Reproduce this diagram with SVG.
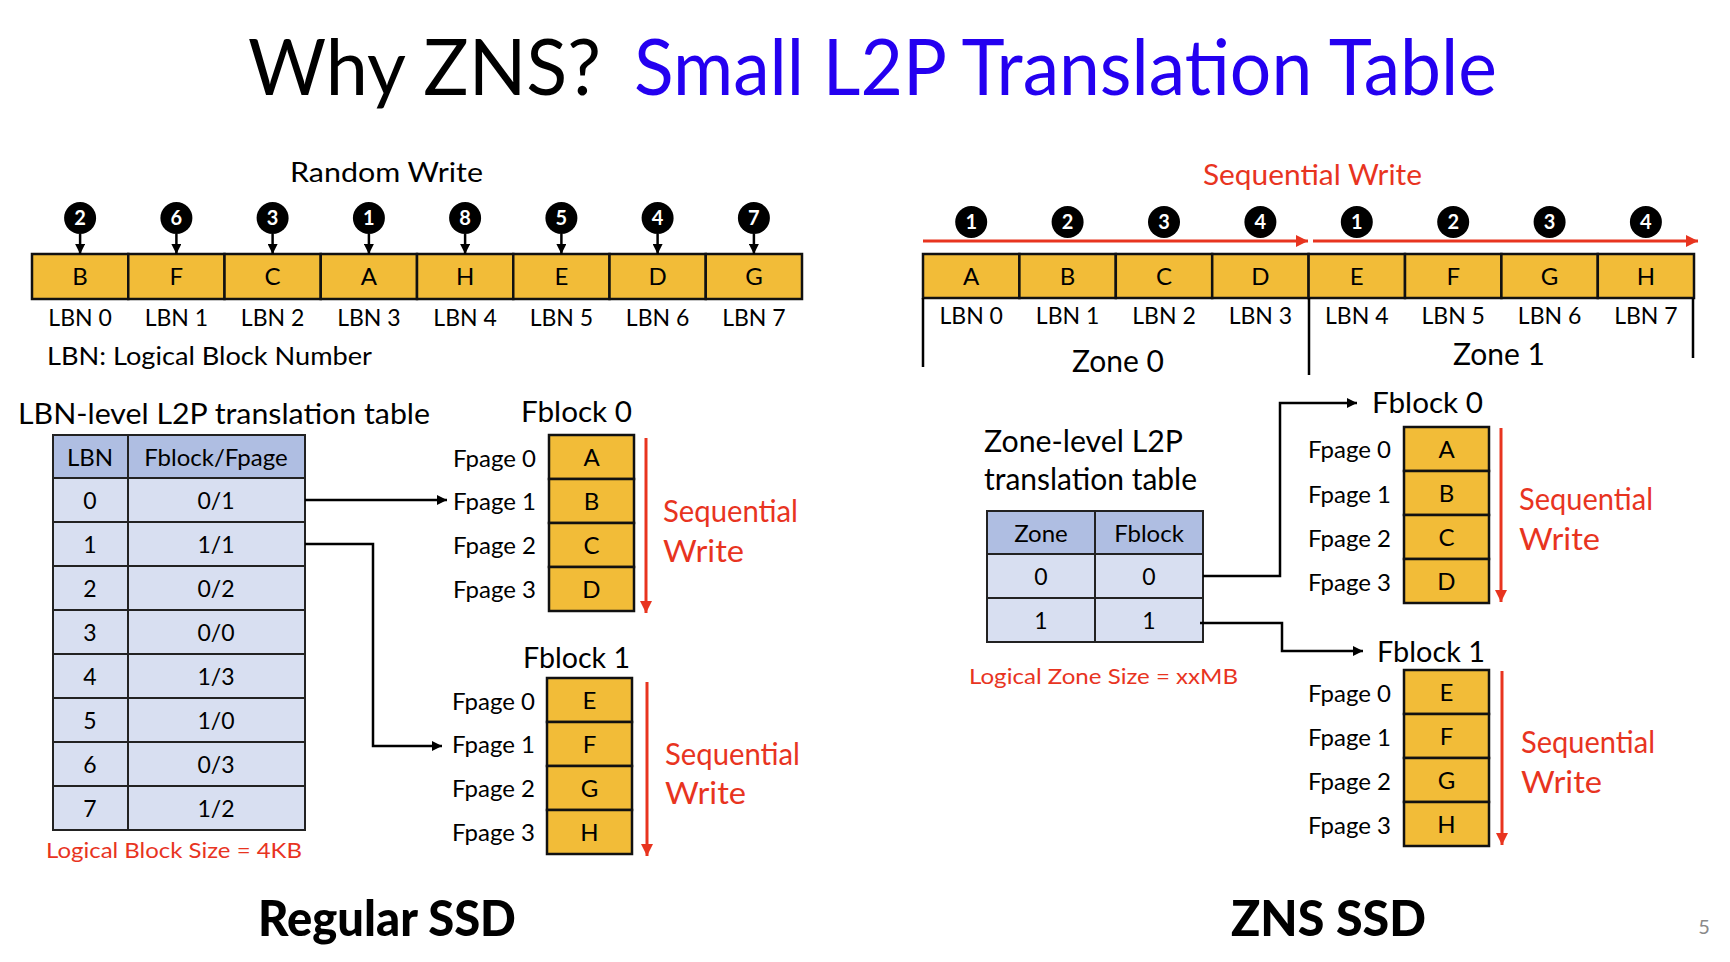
<svg xmlns="http://www.w3.org/2000/svg" width="1730" height="962" viewBox="0 0 1730 962">
<defs>
<style>
text{font-family:Lato,"Liberation Sans",sans-serif;fill:#000}
.c{text-anchor:middle}
.red{fill:#E8341F}
.cell{fill:#F2BC38;stroke:#111;stroke-width:2.5}
.th{fill:#AFBEE2;stroke:#222;stroke-width:2}
.td{fill:#D8DFF1;stroke:#222;stroke-width:2}
.num{fill:#000}
.numt{fill:#fff;font-weight:bold;font-size:20px;text-anchor:middle}
.lk{fill:none;stroke:#000;stroke-width:2.5}
.rl{fill:none;stroke:#E8341F;stroke-width:3}
.br{fill:none;stroke:#000;stroke-width:2.5}
.f24{font-size:24px}
.f23{font-size:23px}
</style>
<marker id="ab" viewBox="0 0 10 10" refX="10" refY="5" markerWidth="10" markerHeight="10" markerUnits="userSpaceOnUse" orient="auto"><path d="M0,0 L10,5 L0,10 z" fill="#000"/></marker>
<marker id="ar" viewBox="0 0 10 10" refX="10" refY="5" markerWidth="12" markerHeight="12" markerUnits="userSpaceOnUse" orient="auto"><path d="M0,0 L10,5 L0,10 z" fill="#E8341F"/></marker>
</defs>
<rect width="1730" height="962" fill="#fff"/>

<g id="title">
<text x="248" y="95" font-size="78" textLength="353" lengthAdjust="spacingAndGlyphs">Why ZNS?</text>
<text x="634" y="95" font-size="78" fill="#2400F0" style="fill:#2400F0" textLength="863" lengthAdjust="spacingAndGlyphs">Small L2P Translation Table</text>
</g>

<!-- Regular SSD: LBN row -->
<g id="random-write-label"><text x="290" y="182" font-size="27" textLength="193" lengthAdjust="spacingAndGlyphs">Random Write</text></g>
<g id="lbn-row-left">
<rect class="cell" x="32" y="254" width="96.25" height="45"/>
<rect class="cell" x="128.25" y="254" width="96.25" height="45"/>
<rect class="cell" x="224.5" y="254" width="96.25" height="45"/>
<rect class="cell" x="320.75" y="254" width="96.25" height="45"/>
<rect class="cell" x="417" y="254" width="96.25" height="45"/>
<rect class="cell" x="513.25" y="254" width="96.25" height="45"/>
<rect class="cell" x="609.5" y="254" width="96.25" height="45"/>
<rect class="cell" x="705.75" y="254" width="96.25" height="45"/>
<g class="f24">
<text class="c" x="80.1" y="285">B</text>
<text class="c" x="176.4" y="285">F</text>
<text class="c" x="272.6" y="285">C</text>
<text class="c" x="368.9" y="285">A</text>
<text class="c" x="465.1" y="285">H</text>
<text class="c" x="561.4" y="285">E</text>
<text class="c" x="657.6" y="285">D</text>
<text class="c" x="753.9" y="285">G</text>
</g>
<g class="f23">
<text class="c" x="80.1" y="326">LBN 0</text>
<text class="c" x="176.4" y="326">LBN 1</text>
<text class="c" x="272.6" y="326">LBN 2</text>
<text class="c" x="368.9" y="326">LBN 3</text>
<text class="c" x="465.1" y="326">LBN 4</text>
<text class="c" x="561.4" y="326">LBN 5</text>
<text class="c" x="657.6" y="326">LBN 6</text>
<text class="c" x="753.9" y="326">LBN 7</text>
</g>
</g>
<g id="write-order-left">
<circle class="num" cx="80.1" cy="218" r="16"/><text class="numt" x="80.1" y="225">2</text>
<circle class="num" cx="176.4" cy="218" r="16"/><text class="numt" x="176.4" y="225">6</text>
<circle class="num" cx="272.6" cy="218" r="16"/><text class="numt" x="272.6" y="225">3</text>
<circle class="num" cx="368.9" cy="218" r="16"/><text class="numt" x="368.9" y="225">1</text>
<circle class="num" cx="465.1" cy="218" r="16"/><text class="numt" x="465.1" y="225">8</text>
<circle class="num" cx="561.4" cy="218" r="16"/><text class="numt" x="561.4" y="225">5</text>
<circle class="num" cx="657.6" cy="218" r="16"/><text class="numt" x="657.6" y="225">4</text>
<circle class="num" cx="753.9" cy="218" r="16"/><text class="numt" x="753.9" y="225">7</text>
</g>
<g id="lbn-legend"><text x="47" y="365" font-size="25" textLength="325" lengthAdjust="spacingAndGlyphs">LBN: Logical Block Number</text></g>

<!-- LBN-level table -->
<g id="lbn-table">
<text x="18" y="424" font-size="29" textLength="412" lengthAdjust="spacingAndGlyphs">LBN-level L2P translation table</text>
<rect class="th" x="53" y="435" width="75" height="43"/>
<rect class="th" x="128" y="435" width="177" height="43"/>
<rect class="td" x="53" y="478" width="75" height="44"/><rect class="td" x="128" y="478" width="177" height="44"/>
<rect class="td" x="53" y="522" width="75" height="44"/><rect class="td" x="128" y="522" width="177" height="44"/>
<rect class="td" x="53" y="566" width="75" height="44"/><rect class="td" x="128" y="566" width="177" height="44"/>
<rect class="td" x="53" y="610" width="75" height="44"/><rect class="td" x="128" y="610" width="177" height="44"/>
<rect class="td" x="53" y="654" width="75" height="44"/><rect class="td" x="128" y="654" width="177" height="44"/>
<rect class="td" x="53" y="698" width="75" height="44"/><rect class="td" x="128" y="698" width="177" height="44"/>
<rect class="td" x="53" y="742" width="75" height="44"/><rect class="td" x="128" y="742" width="177" height="44"/>
<rect class="td" x="53" y="786" width="75" height="44"/><rect class="td" x="128" y="786" width="177" height="44"/>
<text class="c" x="90" y="466" font-size="24">LBN</text>
<text class="c" x="216" y="466" font-size="24">Fblock/Fpage</text>
<g class="f23">
<text class="c" x="90" y="509">0</text><text class="c" x="216" y="509">0/1</text>
<text class="c" x="90" y="553">1</text><text class="c" x="216" y="553">1/1</text>
<text class="c" x="90" y="597">2</text><text class="c" x="216" y="597">0/2</text>
<text class="c" x="90" y="641">3</text><text class="c" x="216" y="641">0/0</text>
<text class="c" x="90" y="685">4</text><text class="c" x="216" y="685">1/3</text>
<text class="c" x="90" y="729">5</text><text class="c" x="216" y="729">1/0</text>
<text class="c" x="90" y="773">6</text><text class="c" x="216" y="773">0/3</text>
<text class="c" x="90" y="817">7</text><text class="c" x="216" y="817">1/2</text>
</g>
<text class="red" x="46" y="858" font-size="22" textLength="256" lengthAdjust="spacingAndGlyphs">Logical Block Size = 4KB</text>
</g>

<!-- Left Fblock 0 -->
<g id="left-fblock0">
<text x="521" y="422" font-size="29" textLength="111" lengthAdjust="spacingAndGlyphs">Fblock 0</text>
<rect class="cell" x="549" y="435" width="85" height="44"/>
<rect class="cell" x="549" y="479" width="85" height="44"/>
<rect class="cell" x="549" y="523" width="85" height="44"/>
<rect class="cell" x="549" y="567" width="85" height="44"/>
<g class="f24">
<text class="c" x="591.5" y="466">A</text>
<text class="c" x="591.5" y="510">B</text>
<text class="c" x="591.5" y="554">C</text>
<text class="c" x="591.5" y="598">D</text>
<text x="453" y="467">Fpage 0</text>
<text x="453" y="510">Fpage 1</text>
<text x="453" y="554">Fpage 2</text>
<text x="453" y="598">Fpage 3</text>
</g>
<text class="red" x="663" y="522" font-size="31" textLength="135" lengthAdjust="spacingAndGlyphs">Sequential</text>
<text class="red" x="663" y="562" font-size="31" textLength="81" lengthAdjust="spacingAndGlyphs">Write</text>
</g>

<!-- Left Fblock 1 -->
<g id="left-fblock1">
<text x="523" y="668" font-size="29" textLength="107" lengthAdjust="spacingAndGlyphs">Fblock 1</text>
<rect class="cell" x="547" y="678" width="85" height="44"/>
<rect class="cell" x="547" y="722" width="85" height="44"/>
<rect class="cell" x="547" y="766" width="85" height="44"/>
<rect class="cell" x="547" y="810" width="85" height="44"/>
<g class="f24">
<text class="c" x="589.5" y="709">E</text>
<text class="c" x="589.5" y="753">F</text>
<text class="c" x="589.5" y="797">G</text>
<text class="c" x="589.5" y="841">H</text>
<text x="452" y="710">Fpage 0</text>
<text x="452" y="753">Fpage 1</text>
<text x="452" y="797">Fpage 2</text>
<text x="452" y="841">Fpage 3</text>
</g>
<text class="red" x="665" y="765" font-size="31" textLength="135" lengthAdjust="spacingAndGlyphs">Sequential</text>
<text class="red" x="665" y="804" font-size="31" textLength="81" lengthAdjust="spacingAndGlyphs">Write</text>
</g>

<!-- ZNS SSD: LBN row -->
<g id="seq-write-label"><text class="red" x="1203" y="185" font-size="28" textLength="219" lengthAdjust="spacingAndGlyphs">Sequential Write</text></g>
<g id="lbn-row-right">
<rect class="cell" x="923" y="254" width="96.4" height="44"/>
<rect class="cell" x="1019.4" y="254" width="96.4" height="44"/>
<rect class="cell" x="1115.8" y="254" width="96.4" height="44"/>
<rect class="cell" x="1212.2" y="254" width="96.4" height="44"/>
<rect class="cell" x="1308.6" y="254" width="96.4" height="44"/>
<rect class="cell" x="1405" y="254" width="96.4" height="44"/>
<rect class="cell" x="1501.4" y="254" width="96.4" height="44"/>
<rect class="cell" x="1597.8" y="254" width="96.2" height="44"/>
<g class="f24">
<text class="c" x="971.2" y="285">A</text>
<text class="c" x="1067.6" y="285">B</text>
<text class="c" x="1164" y="285">C</text>
<text class="c" x="1260.4" y="285">D</text>
<text class="c" x="1356.8" y="285">E</text>
<text class="c" x="1453.2" y="285">F</text>
<text class="c" x="1549.6" y="285">G</text>
<text class="c" x="1645.9" y="285">H</text>
</g>
<g class="f23">
<text class="c" x="971.2" y="324">LBN 0</text>
<text class="c" x="1067.6" y="324">LBN 1</text>
<text class="c" x="1164" y="324">LBN 2</text>
<text class="c" x="1260.4" y="324">LBN 3</text>
<text class="c" x="1356.8" y="324">LBN 4</text>
<text class="c" x="1453.2" y="324">LBN 5</text>
<text class="c" x="1549.6" y="324">LBN 6</text>
<text class="c" x="1645.9" y="324">LBN 7</text>
</g>
</g>
<g id="write-order-right">
<circle class="num" cx="971.2" cy="222" r="16"/><text class="numt" x="971.2" y="229">1</text>
<circle class="num" cx="1067.6" cy="222" r="16"/><text class="numt" x="1067.6" y="229">2</text>
<circle class="num" cx="1164" cy="222" r="16"/><text class="numt" x="1164" y="229">3</text>
<circle class="num" cx="1260.4" cy="222" r="16"/><text class="numt" x="1260.4" y="229">4</text>
<circle class="num" cx="1356.8" cy="222" r="16"/><text class="numt" x="1356.8" y="229">1</text>
<circle class="num" cx="1453.2" cy="222" r="16"/><text class="numt" x="1453.2" y="229">2</text>
<circle class="num" cx="1549.6" cy="222" r="16"/><text class="numt" x="1549.6" y="229">3</text>
<circle class="num" cx="1645.9" cy="222" r="16"/><text class="numt" x="1645.9" y="229">4</text>
</g>
<g id="zones">
<path class="br" d="M923,298 V367 M1309,298 V375 M1693,298 V358"/>
<text class="c" x="1118" y="372" font-size="30">Zone 0</text>
<text class="c" x="1499" y="365" font-size="30">Zone 1</text>
</g>

<!-- Zone-level table -->
<g id="zone-table">
<text x="984" y="452" font-size="30" textLength="199" lengthAdjust="spacingAndGlyphs">Zone-level L2P</text>
<text x="984" y="490" font-size="30" textLength="213" lengthAdjust="spacingAndGlyphs">translation table</text>
<rect class="th" x="987" y="511" width="108" height="43"/>
<rect class="th" x="1095" y="511" width="108" height="43"/>
<rect class="td" x="987" y="554" width="108" height="44"/><rect class="td" x="1095" y="554" width="108" height="44"/>
<rect class="td" x="987" y="598" width="108" height="44"/><rect class="td" x="1095" y="598" width="108" height="44"/>
<text class="c" x="1041" y="542" font-size="24">Zone</text>
<text class="c" x="1149" y="542" font-size="24">Fblock</text>
<g class="f23">
<text class="c" x="1041" y="585">0</text><text class="c" x="1149" y="585">0</text>
<text class="c" x="1041" y="629">1</text><text class="c" x="1149" y="629">1</text>
</g>
<text class="red" x="969" y="684" font-size="22" textLength="269" lengthAdjust="spacingAndGlyphs">Logical Zone Size = xxMB</text>
</g>

<!-- Right Fblock 0 -->
<g id="right-fblock0">
<text x="1372" y="413" font-size="29" textLength="111" lengthAdjust="spacingAndGlyphs">Fblock 0</text>
<rect class="cell" x="1404" y="427" width="85" height="44"/>
<rect class="cell" x="1404" y="471" width="85" height="44"/>
<rect class="cell" x="1404" y="515" width="85" height="44"/>
<rect class="cell" x="1404" y="559" width="85" height="44"/>
<g class="f24">
<text class="c" x="1446.5" y="458">A</text>
<text class="c" x="1446.5" y="502">B</text>
<text class="c" x="1446.5" y="546">C</text>
<text class="c" x="1446.5" y="590">D</text>
<text x="1308" y="458">Fpage 0</text>
<text x="1308" y="503">Fpage 1</text>
<text x="1308" y="547">Fpage 2</text>
<text x="1308" y="591">Fpage 3</text>
</g>
<text class="red" x="1519" y="510" font-size="31" textLength="134" lengthAdjust="spacingAndGlyphs">Sequential</text>
<text class="red" x="1519" y="550" font-size="31" textLength="81" lengthAdjust="spacingAndGlyphs">Write</text>
</g>

<!-- Right Fblock 1 -->
<g id="right-fblock1">
<text x="1377" y="662" font-size="29" textLength="108" lengthAdjust="spacingAndGlyphs">Fblock 1</text>
<rect class="cell" x="1404" y="670" width="85" height="44"/>
<rect class="cell" x="1404" y="714" width="85" height="44"/>
<rect class="cell" x="1404" y="758" width="85" height="44"/>
<rect class="cell" x="1404" y="802" width="85" height="44"/>
<g class="f24">
<text class="c" x="1446.5" y="701">E</text>
<text class="c" x="1446.5" y="745">F</text>
<text class="c" x="1446.5" y="789">G</text>
<text class="c" x="1446.5" y="833">H</text>
<text x="1308" y="702">Fpage 0</text>
<text x="1308" y="746">Fpage 1</text>
<text x="1308" y="790">Fpage 2</text>
<text x="1308" y="834">Fpage 3</text>
</g>
<text class="red" x="1521" y="753" font-size="31" textLength="134" lengthAdjust="spacingAndGlyphs">Sequential</text>
<text class="red" x="1521" y="793" font-size="31" textLength="81" lengthAdjust="spacingAndGlyphs">Write</text>
</g>

<g id="connectors">
<path class="lk" marker-end="url(#ab)" d="M80.1,234 V254"/>
<path class="lk" marker-end="url(#ab)" d="M176.4,234 V254"/>
<path class="lk" marker-end="url(#ab)" d="M272.6,234 V254"/>
<path class="lk" marker-end="url(#ab)" d="M368.9,234 V254"/>
<path class="lk" marker-end="url(#ab)" d="M465.1,234 V254"/>
<path class="lk" marker-end="url(#ab)" d="M561.4,234 V254"/>
<path class="lk" marker-end="url(#ab)" d="M657.6,234 V254"/>
<path class="lk" marker-end="url(#ab)" d="M753.9,234 V254"/>
<path class="lk" marker-end="url(#ab)" d="M305,500 H447"/>
<path class="lk" marker-end="url(#ab)" d="M305,544 H373 V746 H442"/>
<path class="rl" marker-end="url(#ar)" d="M646,438 V613"/>
<path class="rl" marker-end="url(#ar)" d="M647,682 V856"/>
<path class="rl" marker-end="url(#ar)" d="M923,241 H1308"/>
<path class="rl" marker-end="url(#ar)" d="M1313,241 H1698"/>
<path class="rl" marker-end="url(#ar)" d="M1501,428 V602"/>
<path class="rl" marker-end="url(#ar)" d="M1502,671 V845"/>
<path class="lk" marker-end="url(#ab)" d="M1203,576 H1280 V403 H1357"/>
<path class="lk" marker-end="url(#ab)" d="M1200,623 H1282 V651 H1363"/>
</g>

<g id="footer">
<text x="258" y="936" font-size="50" font-weight="900" textLength="258" lengthAdjust="spacingAndGlyphs">Regular SSD</text>
<text x="1231" y="936" font-size="50" font-weight="900" textLength="195" lengthAdjust="spacingAndGlyphs">ZNS SSD</text>
<text x="1704" y="934" font-size="20" style="fill:#8a8a8a" text-anchor="middle">5</text>
</g>
</svg>
